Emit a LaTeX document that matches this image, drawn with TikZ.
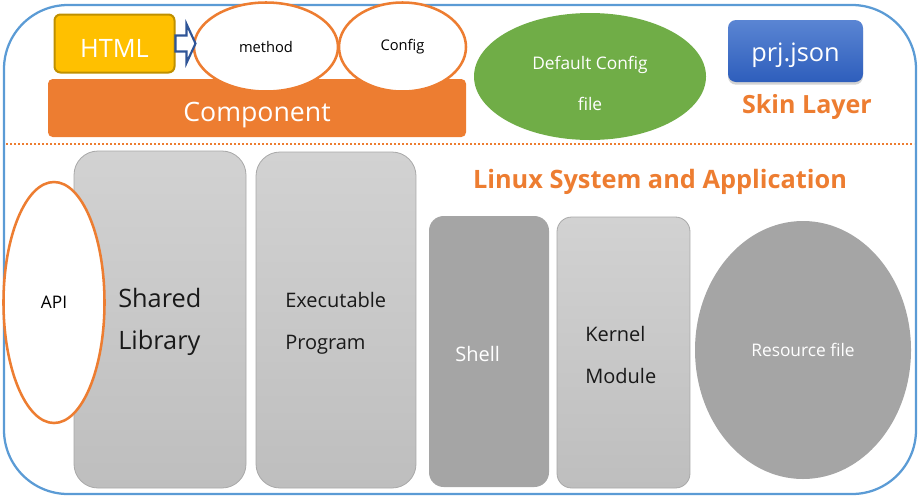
\documentclass[tikz,border=0pt]{standalone}
\usepackage{fontspec}
\setmainfont{Open Sans}
\usetikzlibrary{shapes.geometric,shadows}
\definecolor{frameblue}{HTML}{5B9BD5}
\definecolor{orng}{HTML}{ED7D31}
\definecolor{gold}{HTML}{FFC000}
\definecolor{golddark}{HTML}{BF9000}
\definecolor{grn}{HTML}{70AD47}
\definecolor{navy}{HTML}{2F5597}
\definecolor{midgray}{HTML}{A5A5A5}
\definecolor{boxtop}{HTML}{D2D2D2}
\definecolor{boxbot}{HTML}{BEBEBE}
\definecolor{boxline}{HTML}{A8A8A8}
\definecolor{prjtop}{HTML}{5A85D3}
\definecolor{prjbot}{HTML}{2E5EBC}
\tikzset{
  fs/.style={font=\fontsize{#1}{#1*1.2}\selectfont},
  fsb/.style={font=\fontsize{#1}{#1*1.2}\selectfont\bfseries},
  oval/.style={ellipse, draw=orng, line width=1.9pt, fill=white, inner sep=0pt},
  graybox/.style={rectangle, rounded corners=18pt, draw=boxline, line width=0.6pt, top color=boxtop, bottom color=boxbot, inner sep=0pt},
  blockarrow/.style={draw=navy, line width=1.6pt, fill=white, line join=miter},
  txt/.style={inner sep=0pt},
}
\begin{document}
\begin{tikzpicture}[x=0.75pt,y=-0.75pt]
\useasboundingbox (0,0) rectangle (919,497);
% outer frame
\draw[frameblue, line width=1.7pt, rounded corners=48pt] (4,5) rectangle (916,494);
% separator
\draw[orng, line width=1.6pt, dash pattern=on 1.6pt off 1.4pt] (6,144) -- (914,144);

% skin layer
\node[rectangle, rounded corners=3.5pt, fill=orng, minimum width=313.5pt, minimum height=43.5pt, inner sep=0pt] (comp) at (257,108) {};
\node[txt, text=white, fs=20pt] (comptxt) at (257,115) {Component};
\node[rectangle, rounded corners=4.5pt, fill=gold, draw=golddark, line width=1.5pt, minimum width=90pt, minimum height=43.5pt, inner sep=0pt] (html) at (114.5,43.5) {};
\node[txt, text=white, fs=19pt] (htmltxt) at (114.5,48.5) {HTML};
\node[oval, minimum width=108pt, minimum height=66.75pt, fs=11pt] (method) at (266,47) {method};
\node[oval, minimum width=95.25pt, minimum height=66.75pt, fs=11pt] (config) at (402.5,47) {Config};
\draw[blockarrow] (html.east) ++(0,-8) -- ++(11,0) -- ++(0,-11.5) -- ++(9,19.5) -- ++(-9,19.5) -- ++(0,-11.5) -- ++(-11,0) -- cycle;
\node[ellipse, fill=grn, minimum width=174pt, minimum height=95.25pt, inner sep=0pt] (dcfg) at (590,76.5) {};
\node[txt, text=white, align=center, font=\fontsize{13pt}{30.75pt}\selectfont] (dcfgtxt) at (590,83.5) {Default Config\\file};
\node[rectangle, rounded corners=6pt, top color=prjtop, bottom color=prjbot, minimum width=101.25pt, minimum height=46.5pt, inner sep=0pt, drop shadow={shadow xshift=0pt, shadow yshift=-2pt, opacity=0.35}] (prj) at (795.5,51) {};
\node[txt, text=white, fs=19pt] (prjtxt) at (795.5,55) {prj.json};
\node[txt, text=orng, fsb=18.8pt] (skin) at (807,107) {Skin Layer};

% system layer
\node[txt, text=orng, fsb=19pt] (linux) at (660,182) {Linux System and Application};
\node[graybox, minimum width=129pt, minimum height=252.75pt] (shared) at (160,319.5) {};
\node[txt, anchor=west, align=left, font=\fontsize{19pt}{31.5pt}\selectfont, text=black!90] (sharedtxt) at (118,322) {Shared\\Library};
\node[oval, minimum width=75.75pt, minimum height=180.75pt, fs=13pt] (api) at (54,302.5) {API};
\node[graybox, minimum width=120pt, minimum height=252pt] (exe) at (336,320) {};
\node[txt, anchor=west, align=left, font=\fontsize{15pt}{31.5pt}\selectfont, text=black!90] (exetxt) at (285,323) {Executable\\Program};
\node[rectangle, rounded corners=11pt, fill=midgray, minimum width=90pt, minimum height=203.25pt, inner sep=0pt] (shell) at (489,351.5) {};
\node[txt, anchor=west, text=white, fs=15pt] (shelltxt) at (455,354) {Shell};
\node[graybox, rounded corners=11pt, minimum width=99.75pt, minimum height=203.25pt] (kernel) at (623.5,352.5) {};
\node[txt, anchor=west, align=left, font=\fontsize{15pt}{31.5pt}\selectfont, text=black!90] (kerneltxt) at (585,355) {Kernel\\Module};
\node[ellipse, fill=midgray, minimum width=162pt, minimum height=193.5pt, inner sep=0pt, text=white, fs=13pt] (res) at (803,350) {Resource file};
\end{tikzpicture}
\end{document}
